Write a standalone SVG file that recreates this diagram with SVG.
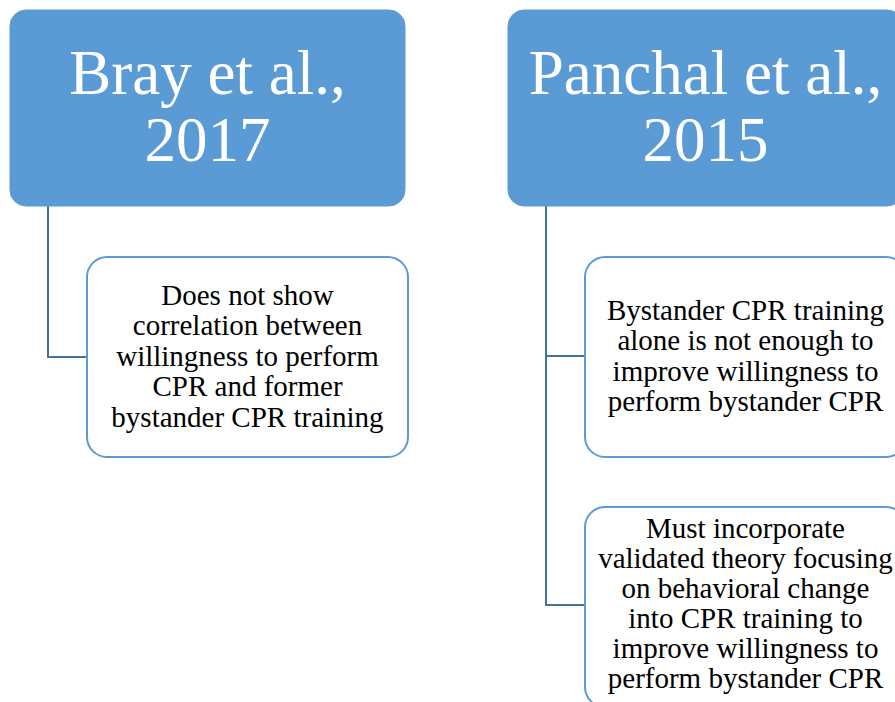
<svg xmlns="http://www.w3.org/2000/svg" width="895" height="702" viewBox="0 0 895 702">
<style>
.hdr{fill:#5B9BD5;stroke:#5B9BD5;stroke-width:1}
.hdr-t{font-family:"Liberation Serif","Times New Roman",serif;font-size:63px;fill:#ffffff;text-anchor:middle}
.box{fill:#ffffff;stroke:#5B9BD5;stroke-width:2}
.box-t{font-family:"Liberation Serif","Times New Roman",serif;font-size:29px;fill:#000000;text-anchor:middle}
.con{fill:none;stroke:#41719C;stroke-width:2}
</style>
<rect width="895" height="702" fill="#ffffff"/>
<g id="connectors">
<path class="con" d="M48,206 V357 H87"/>
<path class="con" d="M546,206 V605 H585"/>
<path class="con" d="M546,356 H585"/>
</g>
<g id="bray">
<rect class="hdr" x="10" y="10" width="395" height="196" rx="16"/>
<text class="hdr-t" x="207.5" y="94">Bray et al.,</text>
<text class="hdr-t" x="207.5" y="161">2017</text>
</g>
<g id="panchal">
<rect class="hdr" x="508" y="10" width="395" height="196" rx="16"/>
<text class="hdr-t" x="705.5" y="94">Panchal et al.,</text>
<text class="hdr-t" x="705.5" y="161">2015</text>
</g>
<g id="bray-finding">
<rect class="box" x="87" y="257" width="321" height="200" rx="20"/>
<text class="box-t" x="247.5" y="305">Does not show</text>
<text class="box-t" x="247.5" y="335">correlation between</text>
<text class="box-t" x="247.5" y="366">willingness to perform</text>
<text class="box-t" x="247.5" y="396">CPR and former</text>
<text class="box-t" x="247.5" y="427">bystander CPR training</text>
</g>
<g id="panchal-finding-1">
<rect class="box" x="585" y="257" width="321" height="200" rx="20"/>
<text class="box-t" x="745.5" y="320">Bystander CPR training</text>
<text class="box-t" x="745.5" y="350">alone is not enough to</text>
<text class="box-t" x="745.5" y="381">improve willingness to</text>
<text class="box-t" x="745.5" y="411">perform bystander CPR</text>
</g>
<g id="panchal-finding-2">
<rect class="box" x="585" y="507" width="321" height="200" rx="20"/>
<text class="box-t" x="745.5" y="538">Must incorporate</text>
<text class="box-t" x="745.5" y="568">validated theory focusing</text>
<text class="box-t" x="745.5" y="598">on behavioral change</text>
<text class="box-t" x="745.5" y="628">into CPR training to</text>
<text class="box-t" x="745.5" y="658">improve willingness to</text>
<text class="box-t" x="745.5" y="688">perform bystander CPR</text>
</g>
</svg>
